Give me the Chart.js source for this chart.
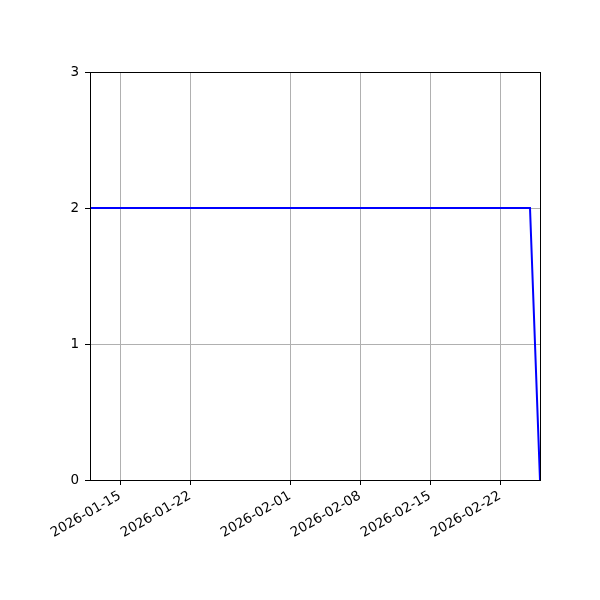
<!DOCTYPE html>
<html>
<head>
<meta charset="utf-8">
<script src="https://cdn.jsdelivr.net/npm/chart.js@4"></script>
<style>
	html, body { margin: 0; padding: 0; background: #ffffff; }
	#box { width: 600px; height: 600px; }
</style>
</head>
<body>
<div id="box"><canvas id="myChart"></canvas></div>
<script>

const dates = [
	'2026-01-12', '2026-01-13', '2026-01-14', '2026-01-15', '2026-01-16', '2026-01-17', '2026-01-18',
	'2026-01-19', '2026-01-20', '2026-01-21', '2026-01-22', '2026-01-23', '2026-01-24', '2026-01-25',
	'2026-01-26', '2026-01-27', '2026-01-28', '2026-01-29', '2026-01-30', '2026-01-31', '2026-02-01',
	'2026-02-02', '2026-02-03', '2026-02-04', '2026-02-05', '2026-02-06', '2026-02-07', '2026-02-08',
	'2026-02-09', '2026-02-10', '2026-02-11', '2026-02-12', '2026-02-13', '2026-02-14', '2026-02-15',
	'2026-02-16', '2026-02-17', '2026-02-18', '2026-02-19', '2026-02-20', '2026-02-21', '2026-02-22',
	'2026-02-23', '2026-02-24', '2026-02-25', '2026-02-26',
];

const values = [
	2, 2, 2, 2, 2, 2, 2,
	2, 2, 2, 2, 2, 2, 2,
	2, 2, 2, 2, 2, 2, 2,
	2, 2, 2, 2, 2, 2, 2,
	2, 2, 2, 2, 2, 2, 2,
	2, 2, 2, 2, 2, 2, 2,
	2, 2, 2, 0,
];

const x_tick_labels = ['2026-01-15', '2026-01-22', '2026-02-01', '2026-02-08', '2026-02-15', '2026-02-22'];
const y_tick_values = [0, 1, 2, 3];

const x_start = '2026-01-12';
const x_end = '2026-02-26';


function toDay(date_str)
{
	const parts = date_str.split('-').map(Number);
	return Date.UTC(parts[0], parts[1] - 1, parts[2]) / 86400000;
}

function toLabel(day)
{
	const d = new Date(Math.round(day) * 86400000);
	return d.toISOString().slice(0, 10);
}


// matplotlib draws all four spines
const frame_plugin = {
	id: 'frame',
	afterDraw(chart)
	{
		const area = chart.chartArea;
		const ctx = chart.ctx;
		ctx.save();
		ctx.strokeStyle = '#000000';
		ctx.lineWidth = 1;
		ctx.strokeRect(Math.round(area.left) + 0.5, Math.round(area.top) + 0.5,
			Math.round(area.right - area.left), Math.round(area.bottom - area.top));
		ctx.restore();
	}
};


window.onload = function(){

	const points = dates.map((item, i) => ({x: toDay(item), y: values[i]}));

	Chart.defaults.font.family = "'DejaVu Sans', sans-serif";
	Chart.defaults.font.size = 13.5;
	Chart.defaults.color = '#000000';

	new Chart(document.getElementById('myChart'), {
		type: 'line',
		data: {
			datasets: [{
				data: points,
				borderColor: '#0000ff',
				backgroundColor: '#0000ff',
				borderWidth: 2,
				pointRadius: 0,
				tension: 0,
				fill: false,
			}],
		},
		plugins: [frame_plugin],
		options: {
			responsive: true,
			maintainAspectRatio: false,
			animation: false,
			layout: {padding: {left: 0, right: 60, top: 72, bottom: 0}},
			plugins: {
				legend: {display: false},
				tooltip: {enabled: false},
			},
			scales: {
				x: {
					type: 'linear',
					min: toDay(x_start),
					max: toDay(x_end),
					afterBuildTicks: (axis) => {
						axis.ticks = x_tick_labels.map((item) => ({value: toDay(item)}));
					},
					afterFit: (axis) => { axis.height = 120; },
					ticks: {
						callback: (value) => toLabel(value),
						minRotation: 30,
						maxRotation: 30,
						autoSkip: false,
						padding: 3,
					},
					grid: {
						color: '#b0b0b0',
						lineWidth: 1,
						tickColor: '#000000',
						tickLength: 5,
					},
					border: {color: '#000000'},
				},
				y: {
					min: 0,
					max: 3,
					afterBuildTicks: (axis) => {
						axis.ticks = y_tick_values.map((v) => ({value: v}));
					},
					afterFit: (axis) => { axis.width = 90; },
					ticks: {padding: 6},
					grid: {
						color: '#b0b0b0',
						lineWidth: 1,
						tickColor: '#000000',
						tickLength: 5,
					},
					border: {color: '#000000'},
				},
			},
		},
	});
};
</script>
</body>
</html>
